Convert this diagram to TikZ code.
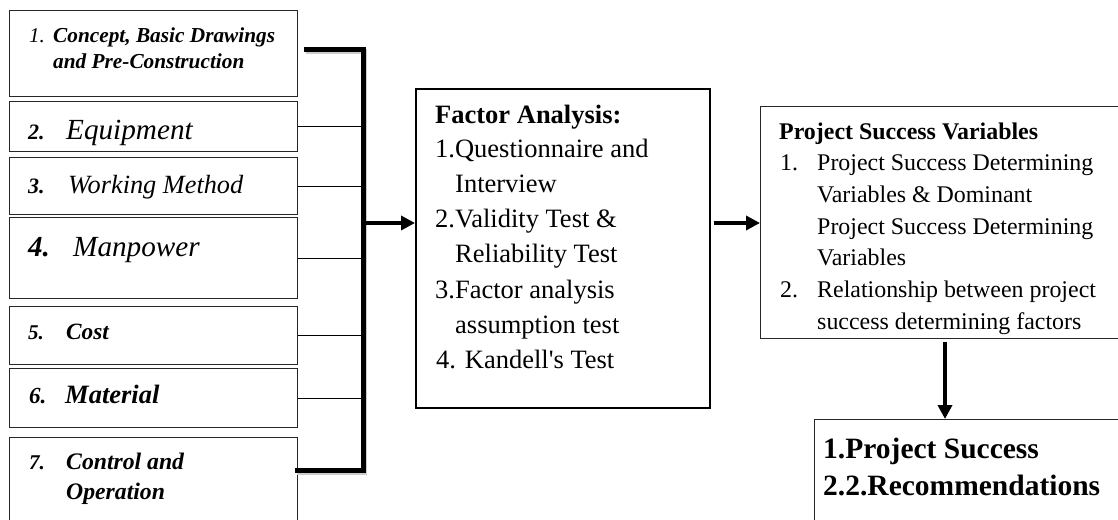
\documentclass[tikz,border=0pt]{standalone}
\usepackage{fontspec}
\setmainfont{Liberation Serif}
\usetikzlibrary{arrows.meta}
\newcommand{\fsz}[1]{\fontsize{#1}{#1}\selectfont}

\begin{document}
\begin{tikzpicture}[x=1pt, y=-1pt, >={Triangle[length=14pt,width=14pt]},
  box/.style={draw=black!85, line width=1pt, inner sep=0pt, anchor=north west},
  txt/.style={anchor=base west, inner sep=0pt},
  fat/.style={->, line width=4pt},
  bracket/.style={line width=5pt},
  feeder/.style={line width=1pt}]
  \useasboundingbox (0,0) rectangle (1118,519);
  \clip (0,0) rectangle (1118,519);

  % Kotak faktor di kiri
  \node[box, minimum width=288pt, minimum height=86pt] (b1) at (9,10) {};
  \node[box, minimum width=288pt, minimum height=50pt] (b2) at (9,101) {};
  \node[box, minimum width=288pt, minimum height=57pt] (b3) at (9,157) {};
  \node[box, minimum width=288pt, minimum height=81pt] (b4) at (9,217) {};
  \node[box, minimum width=288pt, minimum height=58pt] (b5) at (9,306) {};
  \node[box, minimum width=288pt, minimum height=59pt] (b6) at (9,368) {};
  \node[box, minimum width=288pt, minimum height=100pt] (b7) at (9,437) {};

  % Teks kotak kiri
  \node[txt, font=\fsz{21}\itshape] (n1) at (29,42) {1.};
  \node[txt, font=\fsz{21.3}\bfseries\itshape] (l1a) at (53,42) {Concept, Basic Drawings};
  \node[txt, font=\fsz{21.3}\bfseries\itshape] (l1b) at (53,69) {and Pre-Construction};
  \node[txt, font=\fsz{22}\bfseries\itshape] (n2) at (28,139.5) {2.};
  \node[txt, font=\fsz{29.2}\itshape] (l2) at (66,139.5) {Equipment};
  \node[txt, font=\fsz{22}\bfseries\itshape] (n3) at (28,193.5) {3.};
  \node[txt, font=\fsz{26.3}\itshape] (l3) at (68,193.5) {Working Method};
  \node[txt, font=\fsz{29}\bfseries\itshape] (n4) at (28,256.5) {4.};
  \node[txt, font=\fsz{29.2}\itshape] (l4) at (73,256.5) {Manpower};
  \node[txt, font=\fsz{21}\bfseries\itshape] (n5) at (28,339.5) {5.};
  \node[txt, font=\fsz{23.3}\bfseries\itshape] (l5) at (66,339.5) {Cost};
  \node[txt, font=\fsz{23}\bfseries\itshape] (n6) at (29,403.5) {6.};
  \node[txt, font=\fsz{26.5}\bfseries\itshape] (l6) at (65,403.5) {Material};
  \node[txt, font=\fsz{21}\bfseries\itshape] (n7) at (29,469.5) {7.};
  \node[txt, font=\fsz{23.7}\bfseries\itshape] (l7a) at (66,469.5) {Control and};
  \node[txt, font=\fsz{23.7}\bfseries\itshape] (l7b) at (66,499.5) {Operation};

  % Kurung penghubung
  \coordinate (btop) at (304,50);
  \coordinate (spine) at (363,223);
  \coordinate (bbot) at (295,470);
  \draw[bracket, draw=black!20, transform canvas={xshift=1.5pt, yshift=-2pt}]
    (btop) -| (spine) |- (bbot);
  \draw[bracket] (btop) -| (spine) |- (bbot);
  \foreach \b in {b2,b3,b4,b5,b6}
    \draw[feeder] (\b.east) -- (\b.east -| spine);

  % Analisis faktor
  \node[box, draw=black, line width=1.5pt, minimum width=294pt, minimum height=319pt] (fa) at (415,88) {};
  \node[txt, font=\fsz{26.5}\bfseries] (f0) at (435,123) {Factor Analysis:};
  \node[txt, font=\fsz{26.5}] (f1) at (435,157.6) {1.Questionnaire and};
  \node[txt, font=\fsz{26.5}] (f2) at (455,192.5) {Interview};
  \node[txt, font=\fsz{26.5}] (f3) at (435,227.8) {2.Validity Test \&};
  \node[txt, font=\fsz{26.5}] (f4) at (455,262.9) {Reliability Test};
  \node[txt, font=\fsz{26.5}] (f5) at (435,298) {3.Factor analysis};
  \node[txt, font=\fsz{26.5}] (f6) at (455,333.1) {assumption test};
  \node[txt, font=\fsz{26.5}] (f7) at (436,368.2) {4. Kandell\textquotesingle s Test};

  % Variabel keberhasilan proyek
  \node[box, minimum width=400pt, minimum height=232pt] (ps) at (760,106) {};
  \node[txt, font=\fsz{23.9}\bfseries] (p0) at (779,139) {Project Success Variables};
  \node[txt, font=\fsz{23.9}] (p1n) at (780,170.5) {1.};
  \node[txt, font=\fsz{23.9}] (p1) at (817,170.5) {Project Success Determining};
  \node[txt, font=\fsz{23.9}] (p2) at (817,202.5) {Variables \& Dominant};
  \node[txt, font=\fsz{23.9}] (p3) at (817,234) {Project Success Determining};
  \node[txt, font=\fsz{23.9}] (p4) at (817,265.5) {Variables};
  \node[txt, font=\fsz{23.9}] (p5n) at (780,297.5) {2.};
  \node[txt, font=\fsz{23.9}] (p5) at (817,297.5) {Relationship between project};
  \node[txt, font=\fsz{23.9}] (p6) at (817,329) {success determining factors};

  % Hasil
  \node[box, minimum width=400pt, minimum height=150pt] (rs) at (814,419) {};
  \node[txt, font=\fsz{29.5}\bfseries] (r1) at (823,458) {1.Project Success};
  \node[txt, font=\fsz{29.5}\bfseries] (r2) at (823,495) {2.2.Recommendations};

  % Panah
  \draw[fat] (spine) -- (spine -| fa.west);
  \draw[fat] ([xshift=3pt]fa.east |- spine) -- (spine -| ps.west);
  \coordinate (drop) at (945,342);
  \draw[fat, line width=3.5pt] (drop) -- (drop |- rs.north);
\end{tikzpicture}
\end{document}
